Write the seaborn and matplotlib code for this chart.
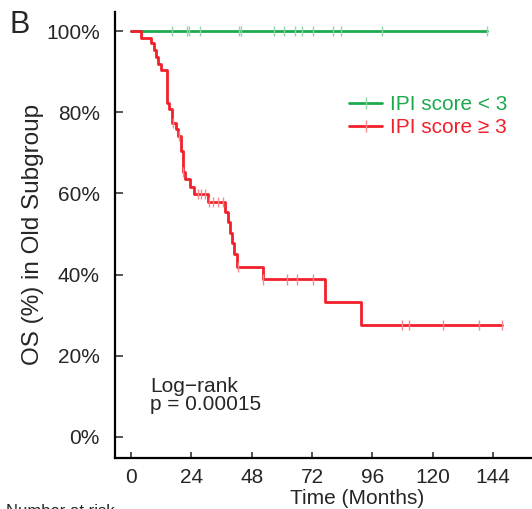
import numpy as np
import pandas as pd
import matplotlib
matplotlib.use("Agg")
import matplotlib.pyplot as plt
import seaborn as sns
from matplotlib.lines import Line2D

# ---------------- data ----------------
groups = ["IPI score < 3", "IPI score \u2265 3"]
line_colors = ["#1DAA4F", "#F2202B"]
tick_colors = ["#8ED6A4", "#F7888D"]

low_times = [0, 141.4]
low_surv = [100, 100]
low_censor = [16.2, 22.3, 23.2, 27.3, 42.8, 43.7, 57.0, 61.0, 65.2, 68.1,
              72.2, 80.4, 83.5, 99.7, 141.4]

high_times = [0, 4.0, 8.0, 9.0, 9.9, 10.9, 11.9, 14.2, 15.2, 16.2, 17.9, 18.6,
              19.8, 20.6, 21.5, 23.5, 25.0, 30.5, 37.4, 38.7, 39.4, 40.3, 41.1,
              42.0, 52.6, 77.1, 91.5, 147.4]
high_surv = [100, 98.4, 97.0, 95.3, 93.7, 92.0, 90.4, 82.2, 80.7, 77.3, 75.8,
             74.1, 70.4, 65.3, 63.5, 61.6, 59.8, 57.8, 55.4, 52.9, 50.3, 47.7,
             45.1, 41.9, 38.8, 33.2, 27.6, 27.6]
high_censor = [16.6, 18.9, 20.8, 26.8, 27.7, 29.4, 31.1, 32.7, 34.7, 36.5,
               42.7, 52.6, 61.9, 65.9, 72.2, 107.9, 110.7, 124.2, 138.4, 147.4]

x_ticks = [0, 24, 48, 72, 96, 120, 144]
y_ticks = [0, 20, 40, 60, 80, 100]
y_tick_labels = ["0%", "20%", "40%", "60%", "80%", "100%"]

# ---------------- frames ----------------
curves = pd.concat([
    pd.DataFrame({"time": low_times, "surv": low_surv, "group": groups[0]}),
    pd.DataFrame({"time": high_times, "surv": high_surv, "group": groups[1]}),
], ignore_index=True)


def level_at(times, survs, t):
    idx = np.searchsorted(np.asarray(times), t, side="right") - 1
    return np.asarray(survs)[idx]


cens = pd.concat([
    pd.DataFrame({"time": low_censor,
                  "surv": level_at(low_times, low_surv, low_censor),
                  "group": groups[0]}),
    pd.DataFrame({"time": high_censor,
                  "surv": level_at(high_times, high_surv, high_censor),
                  "group": groups[1]}),
], ignore_index=True)

# ---------------- plot ----------------
sns.set_style("white")
plt.rcParams["font.family"] = ["Liberation Sans", "DejaVu Sans"]
FS = 15

W, H = 532, 509
fig = plt.figure(figsize=(W / 100, H / 100), dpi=100)
ax = fig.add_axes([115 / W, 1 - 458 / H, 1 - 115 / W, (458 - 12) / H])

sns.lineplot(data=curves, x="time", y="surv", hue="group", hue_order=groups,
             palette=line_colors, drawstyle="steps-post", estimator=None,
             sort=False, linewidth=2.0, legend=False, ax=ax)
sns.scatterplot(data=cens, x="time", y="surv", hue="group", hue_order=groups,
                palette=tick_colors, marker="|", s=55, linewidth=1.0,
                legend=False, ax=ax, zorder=3)

ax.set_xlim(-6.4, 159.5)
ax.set_ylim(-5.2, 104.7)
ax.set_xticks(x_ticks)
ax.set_xticklabels([str(v) for v in x_ticks])
ax.set_yticks(y_ticks)
ax.set_yticklabels(y_tick_labels)
ax.set_xlabel("")
ax.set_ylabel("")
for s in ["top", "right"]:
    ax.spines[s].set_visible(False)
for s in ["left", "bottom"]:
    ax.spines[s].set_linewidth(1.6)
    ax.spines[s].set_color("black")
ax.tick_params(axis="y", direction="in", length=6, width=1.1, pad=11,
               labelsize=FS, left=True)
ax.tick_params(axis="x", direction="in", length=4.5, width=1.1, pad=7,
               labelsize=FS, bottom=True)

fig.text(357 / W, 1 - 498.5 / H, "Time (Months)", ha="center", va="center",
         fontsize=FS)
fig.text(33 / W, 1 - 234 / H, "OS (%) in Old Subgroup", ha="center",
         va="center", rotation=90, fontsize=17.5)
fig.text(9 / W, 1 - 33 / H, "B", ha="left", va="baseline", fontsize=22)
fig.text(150 / W, 1 - 410 / H, "Log\u2212rank\np = 0.00015", ha="left",
         va="baseline", fontsize=FS, linespacing=0.95)
fig.text(6 / W, 1 - 504 / H, "Number at risk", ha="left", va="top",
         fontsize=12)

handles = [Line2D([0], [0], color=line_colors[i], lw=2.0, marker="|",
                  markersize=8, markeredgecolor=tick_colors[i],
                  markeredgewidth=1.0) for i in range(2)]
fig.legend(handles, groups, loc="upper left",
           bbox_to_anchor=(349 / W, 1 - 95 / H), frameon=False, fontsize=FS,
           labelcolor=line_colors, handlelength=1.6, handletextpad=0.35,
           labelspacing=0.2, borderpad=0, borderaxespad=0, numpoints=1)

fig.savefig("out.png", dpi=100)
